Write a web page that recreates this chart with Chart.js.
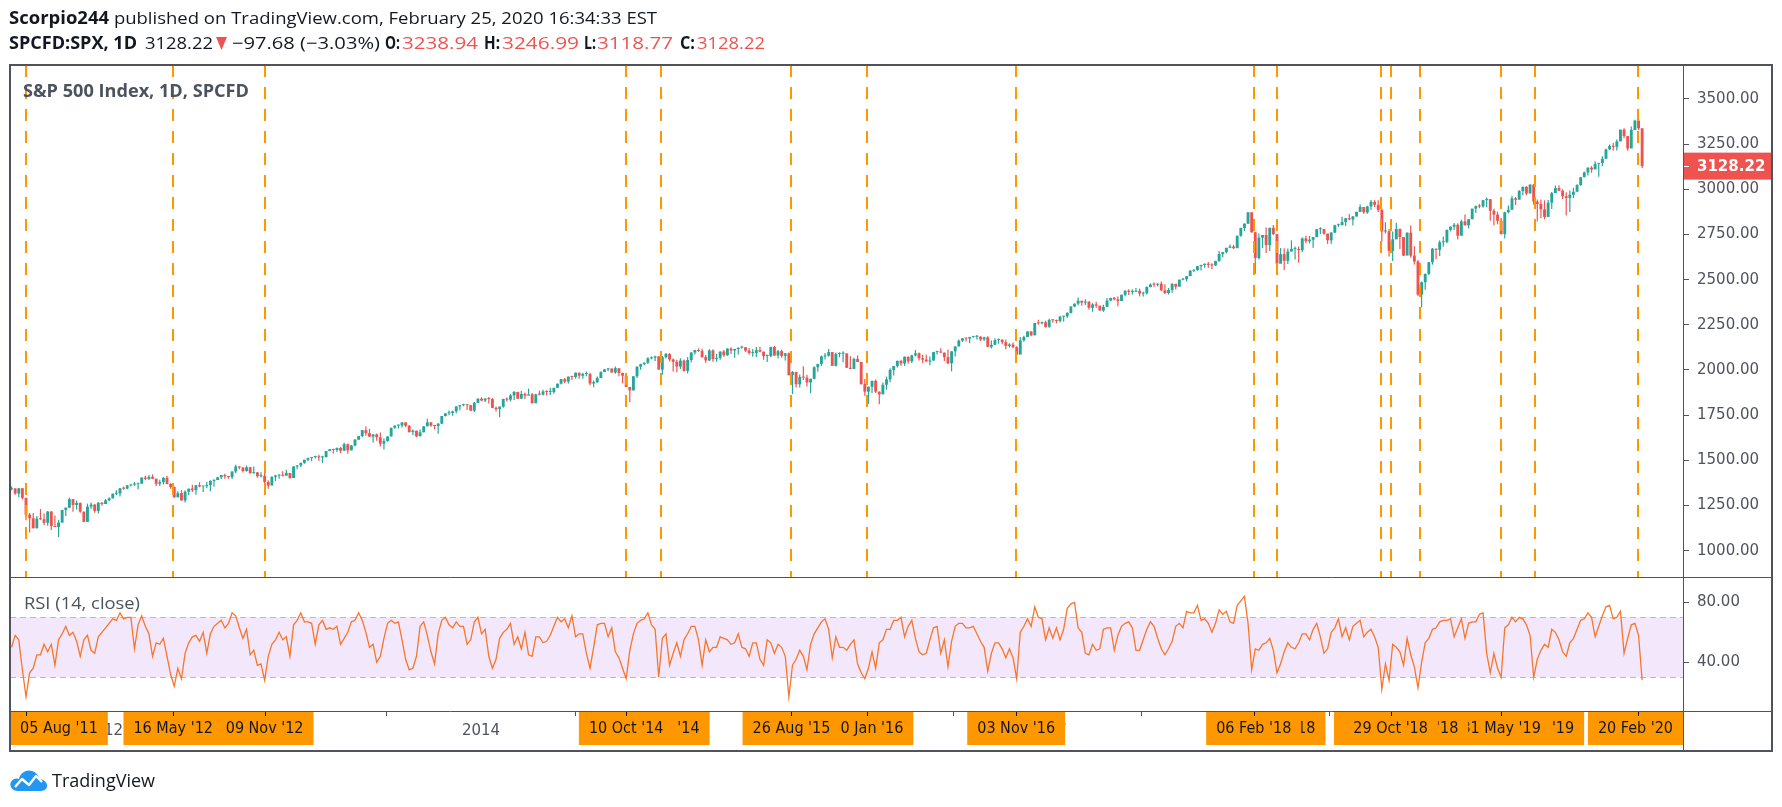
<!DOCTYPE html>
<html><head><meta charset="utf-8">
<script src="https://cdn.jsdelivr.net/npm/chart.js@4.4.1/dist/chart.umd.min.js"></script>
<style>
html,body{margin:0;padding:0;background:#fff;}
#wrap{position:relative;width:1782px;height:807px;overflow:hidden;background:#fff;}
#c{position:absolute;left:0;top:0;}
.t{position:absolute;white-space:nowrap;font-family:'Open Sans',sans-serif;line-height:20px;z-index:2;transform-origin:0 50%;}
#h1{left:9px;top:8px;font-size:17px;color:#131722;}
.s2{top:33px;font-size:17px;color:#131722;}
.b{font-weight:700;}
.r{color:#ef5350;}
#tri{position:absolute;left:216px;top:37px;z-index:2;}
#title{left:23px;top:81px;font-size:17px;font-weight:700;color:#4c525e;}
#rsit{left:24px;top:593px;font-size:17px;color:#4c525e;}
#logo{position:absolute;left:9px;top:768px;z-index:2;}
#logotext{left:52px;top:770px;font-size:18px;color:#131722;}
</style></head>
<body>
<div id="wrap">
<canvas id="c" width="1782" height="807"></canvas>
<div class="t" id="h1" data-w="648"><b>Scorpio244</b> published on TradingView.com, February 25, 2020 16:34:33 EST</div>
<div class="t s2 b" style="left:9px" data-w="128">SPCFD:SPX, 1D</div>
<div class="t s2" style="left:145px" data-w="68">3128.22</div>
<svg id="tri" width="11" height="13" viewBox="0 0 11 13" role="img" aria-label="▼"><polygon points="0,0 11,0 5.5,13" fill="#ef5350"/></svg>
<div class="t s2" style="left:232px" data-w="148">−97.68 (−3.03%)</div>
<div class="t s2 b" style="left:385px" data-w="15">O:</div>
<div class="t s2 r" style="left:402px" data-w="76">3238.94</div>
<div class="t s2 b" style="left:484px" data-w="16">H:</div>
<div class="t s2 r" style="left:502px" data-w="77">3246.99</div>
<div class="t s2 b" style="left:584px" data-w="12">L:</div>
<div class="t s2 r" style="left:597px" data-w="76">3118.77</div>
<div class="t s2 b" style="left:680px" data-w="15">C:</div>
<div class="t s2 r" style="left:697px" data-w="68">3128.22</div>
<div class="t" id="title" data-w="226">S&amp;P 500 Index, 1D, SPCFD</div>
<div class="t" id="rsit" data-w="116">RSI (14, close)</div>
<svg id="logo" width="40" height="24" viewBox="0 0 40 24"><path d="M9 23 C3 23 0 18 2 14 C4 10 8 10 10 11 C11 5 17 1 23 3 C27 4 30 8 30 11 C35 11 39 15 38 19 C37 22 34 23 31 23 Z" fill="#2196f3"/><polyline points="6,19 13,11 20,17 27,8 33,14" fill="none" stroke="#fff" stroke-width="2.4" stroke-linejoin="round"/></svg>
<div class="t" id="logotext" data-w="103">TradingView</div>
</div>
<script>
// ---- data (weekly bars, week-ending dates; index 0 = week ending 2011-07-08) ----
const startDate = '2011-07-08';
const firstOpen = 1340;
const close = [
1344,1316,1345,1292,1199,1179,1124,1177,1174,1154,1216,1136,1131,1155,1225,1238,1285,1253,1264,1216,1159,1244,1255,1220,1265,1258,
1278,1289,1315,1316,1345,1343,1361,1366,1370,1371,1404,1397,1408,1398,1370,1379,1403,1369,1353,1295,1318,1278,1326,1343,1335,1362,1355,1357,1363,1386,1391,1406,1418,1411,1407,1438,1466,1460,1441,1461,1429,1433,1412,1414,1380,1360,1409,1416,1418,1414,1430,1402,
1466,1472,1486,1503,1513,1518,1520,1516,1518,1551,1561,1557,1569,1553,1589,1555,1582,1614,1634,1667,1650,1631,1643,1627,1592,1606,1632,1680,1692,1692,1710,1691,1656,1664,1633,1655,1688,1710,1692,1690,1703,1745,1760,1762,1771,1798,1805,1806,1805,1775,1818,1841,
1831,1842,1839,1790,1783,1797,1839,1836,1859,1878,1841,1867,1858,1865,1816,1865,1863,1881,1878,1878,1901,1924,1949,1936,1963,1961,1985,1968,1978,1978,1925,1932,1955,1988,2003,2008,1986,2010,1983,1968,1906,1887,1965,2018,2032,2040,2064,2068,2075,2002,2071,2089,
2058,2045,2019,2052,1995,2055,2097,2110,2105,2071,2053,2108,2061,2067,2102,2081,2118,2108,2116,2123,2126,2107,2093,2094,2110,2101,2077,2077,2127,2080,2104,2078,2092,1971,1989,1921,1961,1958,1931,1951,2015,2033,2075,2079,2099,2023,2089,2090,2092,2012,2006,2061,2044,
1922,1880,1907,1940,1880,1865,1918,1948,2000,2022,2050,2036,2073,2048,2081,2092,2065,2057,2047,2052,2099,2099,2096,2071,2037,2103,2130,2162,2175,2174,2183,2184,2184,2169,2180,2128,2139,2165,2168,2154,2133,2141,2126,2085,2164,2182,2213,2192,2260,2258,2264,2239,
2277,2275,2271,2295,2297,2316,2351,2367,2383,2373,2378,2344,2363,2356,2329,2349,2384,2399,2391,2382,2416,2439,2432,2433,2438,2423,2425,2459,2473,2472,2477,2441,2426,2443,2477,2461,2500,2502,2519,2549,2553,2575,2581,2588,2582,2579,2602,2642,2652,2676,2683,2674,
2743,2786,2810,2873,2762,2620,2732,2747,2691,2787,2752,2588,2641,2604,2656,2670,2670,2663,2728,2713,2721,2735,2779,2780,2755,2718,2760,2801,2802,2819,2840,2833,2850,2875,2902,2872,2905,2930,2914,2886,2767,2768,2659,2723,2781,2736,2633,2760,2633,2600,2417,2486,
2532,2596,2671,2665,2707,2708,2776,2793,2804,2743,2822,2801,2834,2893,2907,2905,2940,2946,2881,2860,2826,2752,2873,2887,2950,2942,2990,3014,2977,3026,2932,2919,2889,2847,2926,2979,3007,2992,2962,2952,2970,2986,3023,3067,3093,3120,3110,3141,3146,3169,3221,3240,
3235,3265,3330,3295,3226,3328,3380,3338,3128.22];
const high = [
1356,1345,1347,1346,1292,1208,1208,1191,1230,1205,1220,1220,1195,1171,1225,1239,1293,1285,1277,1266,1215,1260,1267,1256,1269,1268,
1285,1296,1316,1334,1346,1355,1363,1368,1379,1372,1406,1414,1419,1422,1398,1392,1406,1415,1373,1354,1328,1335,1334,1343,1364,1363,1378,1357,1381,1390,1395,1407,1419,1426,1413,1438,1475,1467,1461,1471,1464,1465,1435,1434,1430,1389,1410,1419,1422,1439,1448,1430,
1467,1473,1486,1503,1514,1518,1525,1530,1525,1552,1563,1564,1570,1573,1597,1593,1585,1618,1635,1667,1687,1674,1644,1648,1654,1620,1632,1680,1693,1698,1710,1709,1695,1670,1664,1671,1689,1730,1710,1696,1705,1745,1760,1775,1774,1799,1806,1813,1808,1808,1823,1844,
1849,1843,1850,1844,1798,1798,1841,1847,1867,1883,1879,1884,1875,1897,1873,1869,1885,1891,1888,1902,1901,1924,1950,1955,1964,1968,1986,1985,1984,1991,1985,1942,1964,1993,2006,2011,2008,2019,2007,1985,1978,1906,1966,2019,2034,2042,2071,2075,2079,2076,2077,2094,
2093,2064,2057,2064,2058,2072,2097,2111,2119,2117,2083,2114,2114,2089,2102,2111,2120,2126,2117,2124,2135,2126,2122,2116,2127,2128,2102,2085,2129,2133,2111,2112,2094,2096,1994,1990,1975,2021,1974,1952,2021,2034,2080,2094,2116,2100,2097,2097,2104,2090,2076,2067,2081,
2038,1950,1908,1940,1947,1881,1930,1963,2010,2022,2053,2056,2075,2075,2084,2111,2097,2084,2084,2074,2100,2106,2120,2096,2113,2104,2131,2169,2175,2178,2183,2188,2194,2187,2184,2187,2163,2175,2175,2169,2169,2148,2152,2131,2183,2189,2214,2214,2260,2278,2268,2273,
2283,2280,2279,2300,2298,2319,2352,2368,2401,2383,2391,2381,2370,2378,2356,2361,2398,2400,2404,2406,2418,2440,2447,2447,2453,2450,2433,2464,2479,2484,2480,2490,2475,2454,2480,2472,2500,2509,2520,2553,2557,2575,2582,2589,2598,2591,2605,2658,2653,2676,2695,2692,
2743,2787,2811,2873,2871,2763,2755,2747,2789,2787,2802,2742,2675,2674,2672,2718,2683,2683,2733,2743,2742,2736,2779,2790,2780,2753,2763,2804,2810,2848,2841,2863,2852,2876,2916,2900,2909,2941,2940,2940,2894,2817,2780,2767,2815,2782,2731,2761,2800,2685,2609,2489,
2533,2598,2675,2672,2717,2739,2776,2794,2814,2812,2831,2860,2836,2893,2910,2918,2940,2954,2932,2892,2876,2841,2876,2911,2964,2958,2996,3014,3017,3028,3028,2944,2943,2939,2941,2985,3021,3022,3000,2983,2993,3008,3028,3067,3098,3121,3128,3155,3146,3183,3225,3248,
3258,3275,3330,3338,3285,3347,3385,3394,3259];
const low = [
1334,1309,1295,1283,1168,1101,1122,1122,1170,1140,1137,1114,1131,1075,1156,1191,1234,1215,1227,1209,1158,1159,1231,1209,1205,1248,
1258,1275,1290,1306,1300,1337,1340,1355,1359,1340,1370,1390,1391,1396,1358,1358,1366,1367,1343,1292,1296,1277,1267,1306,1324,1309,1351,1325,1345,1329,1354,1391,1397,1398,1398,1397,1428,1450,1432,1437,1426,1426,1403,1405,1373,1343,1363,1385,1398,1410,1422,1398,
1402,1451,1463,1481,1495,1495,1510,1497,1485,1516,1551,1538,1546,1539,1553,1536,1555,1577,1614,1627,1636,1630,1598,1608,1577,1560,1604,1632,1674,1676,1682,1683,1654,1640,1627,1633,1655,1688,1686,1671,1647,1700,1743,1750,1746,1760,1777,1799,1779,1773,1767,1817,
1827,1823,1815,1790,1770,1738,1791,1824,1826,1834,1840,1840,1839,1863,1814,1816,1859,1859,1859,1862,1868,1901,1919,1926,1925,1944,1952,1952,1952,1965,1916,1904,1928,1956,1989,1993,1984,1979,1965,1926,1906,1821,1886,1955,2001,2028,2033,2059,2050,2002,1973,2064,
2047,1992,1988,2005,1990,1981,2041,2085,2100,2067,2040,2049,2046,2045,2057,2073,2079,2088,2068,2085,2118,2100,2086,2073,2072,2098,2056,2044,2070,2079,2064,2067,2052,1971,1867,1903,1903,1944,1909,1872,1949,1990,2022,2058,2073,2022,2019,2070,2042,2012,2005,2005,2043,
1918,1857,1812,1872,1872,1810,1865,1891,1932,1969,2014,2023,2022,2034,2039,2075,2053,2039,2046,2026,2052,2086,2095,2050,2032,1992,2075,2131,2156,2158,2148,2178,2169,2160,2160,2128,2119,2139,2145,2142,2115,2124,2120,2084,2097,2156,2186,2187,2192,2250,2253,2234,
2234,2262,2258,2263,2267,2289,2312,2348,2358,2355,2360,2334,2322,2344,2328,2322,2362,2380,2386,2353,2381,2408,2415,2418,2431,2407,2407,2418,2457,2460,2462,2437,2420,2418,2428,2446,2464,2496,2490,2520,2542,2549,2551,2566,2566,2557,2576,2601,2624,2646,2676,2669,
2683,2737,2768,2808,2759,2533,2612,2675,2647,2659,2745,2586,2594,2553,2586,2655,2612,2594,2652,2702,2701,2676,2736,2753,2748,2698,2699,2758,2792,2799,2797,2828,2800,2848,2876,2865,2865,2885,2902,2874,2710,2755,2628,2603,2723,2670,2631,2649,2621,2584,2409,2347,
2444,2525,2583,2613,2631,2682,2701,2767,2775,2722,2745,2800,2785,2849,2869,2895,2898,2900,2826,2801,2806,2750,2728,2868,2887,2913,2964,2967,2967,2977,2914,2822,2840,2834,2856,2891,2980,2990,2946,2855,2874,2952,2990,3020,3066,3077,3091,3112,3070,3128,3169,3217,
3213,3215,3270,3283,3214,3235,3335,3328,3118];
const rsi = [
50,58,55,35,17,33,36,45,45,52, 47,52,38,55,59,64,58,60,54,44, 55,58,48,46,57,60,63,66,69,68, 73,69,70,70,49,65,71,64,59,44,
53,52,56,44,32,24,36,29,46,53, 57,58,54,60,46,59,64,66,68,63, 66,73,71,63,56,62,45,48,38,39, 28,44,52,55,60,55,57,44,65,68,
73,67,67,66,52,65,68,62,63,62, 64,52,56,60,67,68,73,68,60,50, 52,40,44,56,66,68,66,67,55,42, 35,36,44,64,67,58,47,39,59,68,
70,65,63,67,64,64,52,55,67,70, 59,62,44,36,42,56,60,62,66,52, 57,49,60,45,44,57,57,53,54,58, 64,70,67,69,63,71,57,59,59,46,
36,50,65,66,66,57,63,47,43,36, 29,48,59,66,68,69,73,65,62,30, 56,59,38,46,53,44,55,59,64,64, 55,38,55,47,50,50,57,56,55,52,
53,59,50,49,44,53,53,42,38,55, 53,46,52,50,44,17,38,42,48,44, 35,52,59,63,67,69,62,43,57,50, 50,48,52,55,39,33,29,36,47,36,
53,55,62,62,68,68,70,57,64,68, 56,47,45,46,55,63,64,46,55,37, 54,64,66,66,63,63,64,59,54,50, 34,46,53,53,49,43,49,43,29,60,
64,69,64,77,70,69,55,63,56,63, 55,62,76,79,80,63,60,46,45,52, 48,49,62,63,63,48,58,64,66,67, 63,48,48,55,62,67,64,56,49,45,
49,54,64,66,63,74,73,73,78,68, 69,66,60,66,75,72,74,67,66,78, 81,84,66,35,49,48,52,53,56,48, 33,39,47,53,50,49,53,59,59,55,
62,66,57,46,49,60,63,69,57,63, 55,64,66,68,57,60,62,57,50,22, 39,28,52,50,47,38,56,45,37,23, 40,53,56,62,63,67,68,68,69,57,
63,69,56,66,67,67,72,73,46,33, 46,36,30,63,65,70,67,70,69,65, 58,30,42,48,52,50,62,60,55,47, 44,53,56,62,68,69,73,70,57,64,
71,77,78,69,70,74,46,56,65,66, 58,28];
const priceTicks = [1000,1250,1500,1750,2000,2250,2500,2750,3000,3250,3500];
const rsiTicks = [80,40];
const rsiBand = [30,70];
const yearTickDates = ['2012-01-03','2013-01-02','2014-01-02','2015-01-02','2016-01-04','2017-01-03','2018-01-02','2019-01-02','2020-01-02'];
const yearTickLabels = ['2012','2013','2014','2015','2016','2017','2018','2019','2020'];
const eventDates = ['2011-08-05','2012-05-16','2012-11-09','2014-10-10','2014-12-16','2015-08-26','2016-01-20','2016-11-03','2018-02-06','2018-03-23','2018-10-11','2018-10-29','2018-12-24','2019-05-31','2019-08-05','2020-02-20'];
const eventLabels = ["05 Aug '11","16 May '12","09 Nov '12","10 Oct '14","16 Dec '14","26 Aug '15","20 Jan '16","03 Nov '16","06 Feb '18","23 Mar '18","11 Oct '18","29 Oct '18","24 Dec '18","31 May '19","05 Aug '19","20 Feb '20"];
const labelOrder = [15,14,13,12,10,11,9,8,7,6,5,4,3,2,1,0];
const lastPrice = 3128.22;

// fit header/title texts to the reference widths
document.querySelectorAll('.t[data-w]').forEach(el => {
  const w = el.getBoundingClientRect().width;
  if (w > 0) el.style.transform = 'scaleX(' + (Number(el.dataset.w) / w).toFixed(4) + ')';
});

// ---- helpers ----
const DAY = 86400000;
const t0 = Date.parse(startDate + 'T00:00:00Z');
const toIdx = d => (Date.parse(d + 'T00:00:00Z') - t0) / (7 * DAY);
const TEAL = '#26a69a', RED = '#ef5350', ORANGE = '#ff9800', FRAME = '#50535e', AXIS_TXT = '#50535e';
const n = Math.min(close.length, high.length, low.length);
const openArr = close.map((c, i) => i === 0 ? firstOpen : close[i - 1]);
const bodyData = [], wickData = [], colors = [];
for (let i = 0; i < n; i++) {
  bodyData.push({x: i, y: [openArr[i], close[i]]});
  wickData.push({x: i, y: [low[i], high[i]]});
  colors.push(close[i] >= openArr[i] ? TEAL : RED);
}
const rsiData = rsi.map((v, i) => ({x: i, y: v}));

const overlay = {
  id: 'overlay',
  beforeDatasetsDraw(chart) {
    const {ctx, chartArea: ca} = chart; const r = chart.scales.rsi;
    const y1 = r.getPixelForValue(rsiBand[1]), y0 = r.getPixelForValue(rsiBand[0]);
    ctx.save();
    ctx.fillStyle = '#f3e8fb';
    ctx.fillRect(ca.left, y1, ca.right - ca.left, y0 - y1);
    ctx.strokeStyle = '#b8b9c2'; ctx.lineWidth = 1; ctx.setLineDash([6, 4]);
    for (const y of [y1, y0]) { const yy = Math.round(y) + 0.5; ctx.beginPath(); ctx.moveTo(ca.left, yy); ctx.lineTo(ca.right, yy); ctx.stroke(); }
    ctx.restore();
  },
  afterDatasetsDraw(chart) {
    const {ctx} = chart; const xs = chart.scales.x, ys = chart.scales.y;
    ctx.save(); ctx.strokeStyle = ORANGE; ctx.lineWidth = 2; ctx.setLineDash([12, 10]);
    eventDates.forEach(d => {
      const x = Math.round(xs.getPixelForValue(toIdx(d)));
      ctx.beginPath(); ctx.moveTo(x, ys.top); ctx.lineTo(x, ys.bottom); ctx.stroke();
    });
    ctx.restore();
  },
  afterDraw(chart) {
    const {ctx, chartArea: ca} = chart; const xs = chart.scales.x, ys = chart.scales.y;
    const outerR = ys.right, outerB = xs.bottom;
    ctx.save();
    // event date labels on the time axis
    ctx.font = '16px "DejaVu Sans Condensed", "DejaVu Sans", sans-serif';
    ctx.textAlign = 'center'; ctx.textBaseline = 'middle';
    labelOrder.forEach(k => {
      const cx = xs.getPixelForValue(toIdx(eventDates[k]));
      const w = ctx.measureText(eventLabels[k]).width + 20;
      let l = cx - w / 2;
      if (l < ca.left) l = ca.left;
      if (l + w > ca.right) l = ca.right - w;
      ctx.fillStyle = ORANGE; ctx.fillRect(l, ca.bottom, w, 34);
      ctx.fillStyle = '#131722';
      ctx.fillRect(Math.round(cx), ca.bottom, 1, 5);
      ctx.fillText(eventLabels[k], l + w / 2, ca.bottom + 18);
    });
    // last price label
    const py = ys.getPixelForValue(lastPrice);
    ctx.fillStyle = RED; ctx.fillRect(ca.right, py - 13.5, outerR - ca.right, 27);
    ctx.fillStyle = '#fff'; ctx.font = 'bold 15px "DejaVu Sans", sans-serif'; ctx.textAlign = 'left';
    ctx.fillText(lastPrice.toFixed(2), ca.right + 14, py + 1);
    ctx.fillRect(ca.right, Math.round(py), 6, 1);
    // frame
    ctx.strokeStyle = FRAME; ctx.lineWidth = 1;
    const hl = (y, x0, x1) => { ctx.beginPath(); ctx.moveTo(x0, Math.round(y) + 0.5); ctx.lineTo(x1, Math.round(y) + 0.5); ctx.stroke(); };
    const vl = (x, y0, y1) => { ctx.beginPath(); ctx.moveTo(Math.round(x) + 0.5, y0); ctx.lineTo(Math.round(x) + 0.5, y1); ctx.stroke(); };
    hl(ys.bottom, ca.left, outerR);
    hl(ca.bottom, ca.left, outerR);
    vl(ca.right, ca.top, outerB);
    ctx.lineWidth = 2;
    ctx.strokeRect(ca.left, ca.top, outerR - ca.left, outerB - ca.top);
    ctx.restore();
  }
};

const tickFont = {family: 'DejaVu Sans', size: 15};
new Chart(document.getElementById('c'), {
  type: 'bar',
  data: {
    datasets: [
      {type: 'bar', label: 'wick', data: wickData, xAxisID: 'x', yAxisID: 'y', backgroundColor: colors, grouped: false, categoryPercentage: 1, barPercentage: 0.33, borderWidth: 0, order: 2},
      {type: 'bar', label: 'body', data: bodyData, xAxisID: 'x', yAxisID: 'y', backgroundColor: colors, grouped: false, categoryPercentage: 1, barPercentage: 0.8, borderWidth: 0, minBarLength: 1, order: 1},
      {type: 'line', label: 'RSI', data: rsiData, xAxisID: 'x', yAxisID: 'rsi', borderColor: '#f7762a', borderWidth: 1.3, pointRadius: 0, tension: 0, fill: false, order: 0}
    ]
  },
  options: {
    responsive: false, animation: false, devicePixelRatio: 1,
    layout: {padding: {left: 10, top: 65, right: 10, bottom: 56}},
    plugins: {legend: {display: false}, tooltip: {enabled: false}},
    scales: {
      x: {
        type: 'linear', position: 'bottom', min: -0.4254, max: 462.3, offset: false,
        afterBuildTicks: s => { s.ticks = yearTickDates.map(d => ({value: toIdx(d)})); },
        ticks: {autoSkip: false, maxRotation: 0, font: tickFont, color: AXIS_TXT, padding: 6, callback: (v, i) => yearTickLabels[i]},
        grid: {display: true, drawOnChartArea: false, drawTicks: true, tickLength: 5, color: FRAME},
        border: {display: false},
        afterFit: s => { s.height = 40; }
      },
      y: {
        type: 'linear', position: 'right', stack: 'pane', stackWeight: 512, weight: 0,
        min: 854, max: 3688,
        afterBuildTicks: s => { s.ticks = priceTicks.map(v => ({value: v})); },
        ticks: {font: tickFont, color: AXIS_TXT, padding: 8, callback: v => Number(v).toFixed(2)},
        grid: {display: true, drawOnChartArea: false, drawTicks: true, tickLength: 6, color: FRAME},
        border: {display: false},
        afterFit: s => { s.width = 89; }
      },
      rsi: {
        type: 'linear', position: 'right', stack: 'pane', stackWeight: 134, weight: 1,
        min: 7.5, max: 96.9,
        afterBuildTicks: s => { s.ticks = rsiTicks.map(v => ({value: v})); },
        ticks: {font: tickFont, color: AXIS_TXT, padding: 8, callback: v => Number(v).toFixed(2)},
        grid: {display: true, drawOnChartArea: false, drawTicks: true, tickLength: 6, color: FRAME},
        border: {display: false},
        afterFit: s => { s.width = 89; }
      }
    }
  },
  plugins: [overlay]
});
</script>
</body></html>
